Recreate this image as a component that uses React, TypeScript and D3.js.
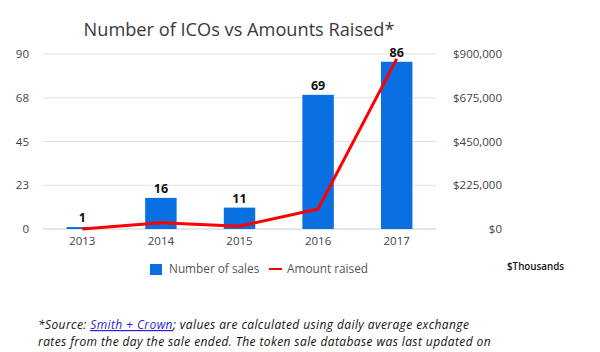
import React, { useLayoutEffect, useRef, useState } from "react";
import * as d3 from "d3";

const years = ["2013", "2014", "2015", "2016", "2017"];
const sales = [1, 16, 11, 69, 86];
const raised = [500, 32000, 14000, 103000, 875000]; // $ thousands
const leftTicks = [0, 22.5, 45, 67.5, 90];
const rightTicks = [0, 225000, 450000, 675000, 900000];
const notePieces = ["*Source: ", "Smith + Crown", "; values are calculated using daily average exchange"];

const W = 600;
const H = 352;
const margin = { top: 54, right: 164, bottom: 123, left: 43 };
const font = "'Open Sans', 'DejaVu Sans', sans-serif";

const App = () => {
  const plotW = W - margin.left - margin.right;
  const plotH = H - margin.top - margin.bottom;

  const x = d3.scaleBand().domain(years).range([margin.left, margin.left + plotW]).paddingInner(0.6).paddingOuter(0.3);
  const yL = d3.scaleLinear().domain([0, 90]).range([margin.top + plotH, margin.top]);
  const yR = d3.scaleLinear().domain([0, 900000]).range([margin.top + plotH, margin.top]);

  const line = d3
    .line<number>()
    .x((_, i) => (x(years[i]) as number) + x.bandwidth() / 2)
    .y((d) => yR(d))
    .curve(d3.curveLinear);

  const fmtR = (d: number) => "$" + d3.format(",")(d);

  // footnote line 1 is split into pieces (link coloured), laid out after measuring
  const noteRefs = useRef<(SVGTextElement | null)[]>([]);
  const [noteX, setNoteX] = useState<number[]>([38, 90, 180]);
  useLayoutEffect(() => {
    let cx = 38;
    const xs: number[] = [];
    noteRefs.current.forEach((el) => {
      xs.push(cx);
      cx += el ? el.getComputedTextLength() : 0;
    });
    setNoteX(xs);
  }, []);

  const noteStyle = { whiteSpace: "pre" as const, letterSpacing: "0.4px" };

  return (
    <svg width={W} height={H} style={{ position: "absolute", left: 0, top: 0, background: "#fff" }}>
      <text x={239} y={36} textAnchor="middle" fontFamily={font} fontSize={18.2} fill="#3a3a3a">
        Number of ICOs vs Amounts Raised*
      </text>

      {leftTicks.map((t) => (
        <g key={t}>
          <line x1={margin.left} x2={margin.left + plotW} y1={yL(t)} y2={yL(t)} stroke={t === 0 ? "#ccc" : "#e0e0e0"} />
          <text x={29} y={yL(t)} dy="0.35em" textAnchor="end" fontFamily={font} fontSize={11.5} fill="#444">
            {Math.round(t)}
          </text>
        </g>
      ))}
      {rightTicks.map((t) => (
        <text key={t} x={502} y={yR(t)} dy="0.35em" textAnchor="end" fontFamily={font} fontSize={11.5} fill="#444">
          {fmtR(t)}
        </text>
      ))}

      {sales.map((v, i) => (
        <g key={years[i]}>
          <rect x={x(years[i])} y={yL(v)} width={x.bandwidth()} height={yL(0) - yL(v)} fill="#0a6fe0" />
          <text
            x={(x(years[i]) as number) + x.bandwidth() / 2}
            y={yL(v) - 5}
            textAnchor="middle"
            fontFamily={font}
            fontSize={12.5}
            fontWeight="bold"
            fill="#111"
          >
            {v}
          </text>
        </g>
      ))}

      <path d={line(raised) as string} fill="none" stroke="#ff0000" strokeWidth={3} strokeLinejoin="round" />

      {years.map((yr) => (
        <text
          key={yr}
          x={(x(yr) as number) + x.bandwidth() / 2}
          y={241}
          dy="0.35em"
          textAnchor="middle"
          fontFamily={font}
          fontSize={11.5}
          fill="#444"
        >
          {yr}
        </text>
      ))}

      <rect x={150} y={264} width={12} height={11} fill="#0a6fe0" />
      <text x={169} y={269} dy="0.35em" fontFamily={font} fontSize={11.8} fill="#555">
        Number of sales
      </text>
      <line x1={269} x2={282} y1={269} y2={269} stroke="#ff0000" strokeWidth={2} />
      <text x={287} y={269} dy="0.35em" fontFamily={font} fontSize={11.8} fill="#555">
        Amount raised
      </text>

      <text x={507} y={267} dy="0.35em" fontFamily={font} fontSize={9.8} fontWeight={600} fill="#111">
        $Thousands
      </text>

      {notePieces.map((p, i) => (
        <text
          key={i}
          ref={(el) => {
            noteRefs.current[i] = el;
          }}
          x={noteX[i]}
          y={329}
          fontFamily={font}
          fontSize={12}
          fontStyle="italic"
          fill={i === 1 ? "#2a1fd8" : "#111"}
          textDecoration={i === 1 ? "underline" : undefined}
          style={noteStyle}
        >
          {p}
        </text>
      ))}
      <text x={38} y={346} fontFamily={font} fontSize={12} fontStyle="italic" fill="#111" style={noteStyle}>
        rates from the day the sale ended. The token sale database was last updated on
      </text>
    </svg>
  );
};

export default App;
